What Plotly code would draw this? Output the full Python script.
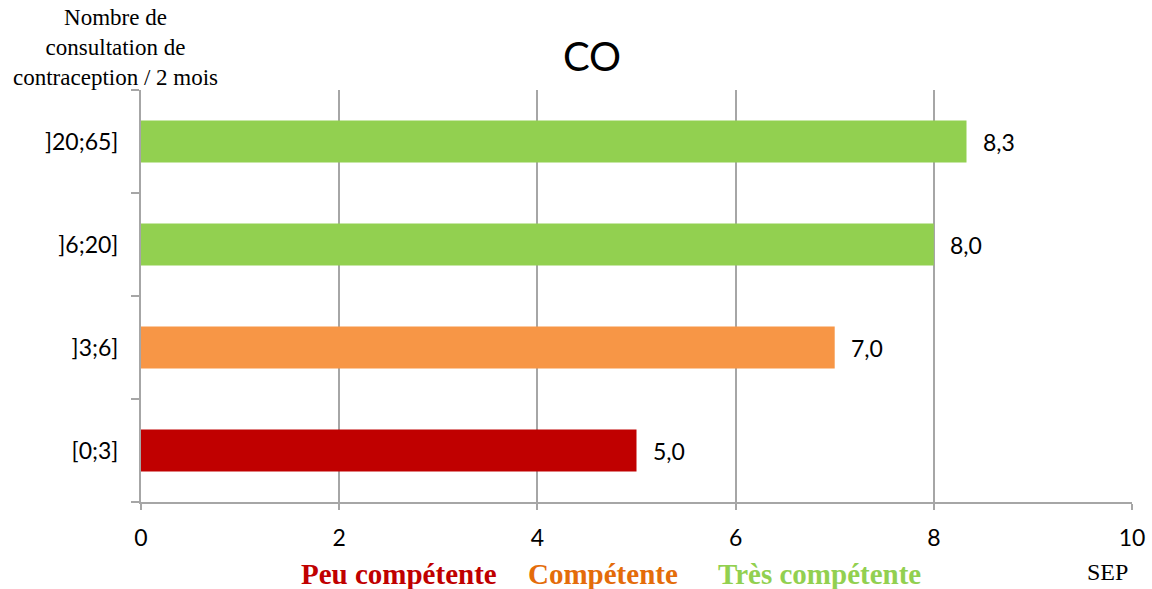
import plotly.graph_objects as go

categories = ["[0;3]", "]3;6]", "]6;20]", "]20;65]"]
values = [5.0, 7.0, 8.0, 8.33]
labels = ["5,0", "7,0", "8,0", "8,3"]
colors = ["#C00000", "#F79646", "#92D050", "#92D050"]
x_ticks = [0, 2, 4, 6, 8, 10]
legend_items = ["Peu compétente", "Compétente", "Très compétente"]
legend_colors = ["#C00000", "#E46C0A", "#92D050"]
legend_x = [0.26, 0.466, 0.685]

fig = go.Figure()
fig.add_trace(go.Bar(
    y=categories, x=values, orientation="h",
    marker=dict(color=colors, line=dict(width=0)),
    width=0.41, hoverinfo="skip",
))

for c, v, t in zip(categories, values, labels):
    fig.add_annotation(x=v, y=c, text=t, showarrow=False, xanchor="left",
                       xshift=14, font=dict(family="Lato", size=23, color="#000"))

for t, col, x in zip(legend_items, legend_colors, legend_x):
    fig.add_annotation(x=x, y=-0.174, xref="paper", yref="paper", text="<b>%s</b>" % t,
                       showarrow=False, xanchor="center", yanchor="middle",
                       font=dict(family="Liberation Serif", size=29, color=col))

fig.add_annotation(x=0.975, y=-0.170, xref="paper", yref="paper", text="SEP",
                   showarrow=False, xanchor="center", yanchor="middle",
                   font=dict(family="Liberation Serif", size=24, color="#000"))

fig.add_annotation(x=-0.026, y=1.212, xref="paper", yref="paper",
                   text="Nombre de<br>consultation de<br>contraception / 2 mois",
                   showarrow=False, xanchor="center", yanchor="top",
                   font=dict(family="Liberation Serif", size=23, color="#000"))

fig.update_layout(
    width=1152, height=589,
    margin=dict(l=141, r=20, t=90, b=87, autoexpand=False),
    paper_bgcolor="white", plot_bgcolor="white",
    showlegend=False,
    title=dict(text="CO", x=592/1152, xanchor="center", y=1-57/589, yanchor="middle",
               font=dict(family="Lato", size=40, color="#000")),
)

fig.update_xaxes(range=[0, 10], tickvals=x_ticks, ticktext=[str(v) for v in x_ticks],
                 showgrid=True, gridcolor="#A6A6A6", gridwidth=2,
                 zeroline=False, showline=True, linecolor="#A6A6A6", linewidth=2,
                 ticks="outside", ticklen=6, tickcolor="#A6A6A6", tickwidth=2,
                 ticklabelstandoff=8, automargin=False,
                 tickfont=dict(family="Lato", size=23, color="#000"))
fig.update_yaxes(categoryorder="array", categoryarray=categories,
                 showline=True, linecolor="#A6A6A6", linewidth=2,
                 ticks="outside", tickson="boundaries", ticklen=8, tickcolor="#A6A6A6", tickwidth=2,
                 showgrid=False, ticklabelstandoff=16, automargin=False,
                 tickfont=dict(family="Lato", size=23, color="#000"))

fig.write_html("out.html", config={"displayModeBar": False},
               post_script="document.body.style.margin='0';")
